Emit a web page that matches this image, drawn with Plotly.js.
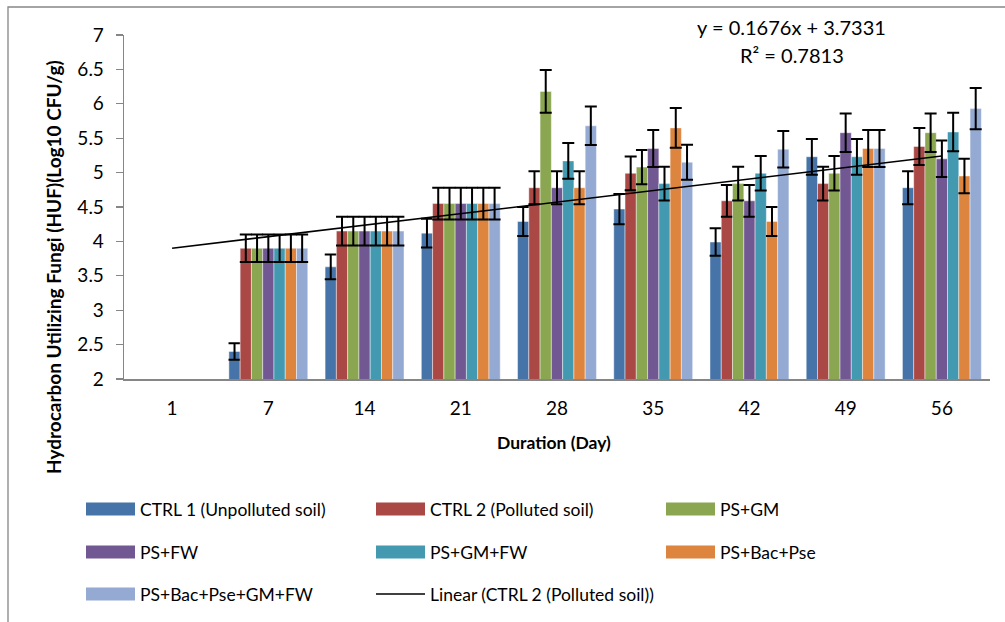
<!DOCTYPE html>
<html>
<head>
<meta charset="utf-8">
<script src="https://cdn.plot.ly/plotly-3.0.1.min.js"></script>
<style>
  html, body { margin: 0; padding: 0; background: #fff; }
  #chart { width: 1005px; height: 622px; }
</style>
</head>
<body>
<div id="chart"></div>
<script>
// Sampling days (categories)
const days = ['1', '7', '14', '21', '28', '35', '42', '49', '56'];

// Series names
const seriesNames = [
  'CTRL 1 (Unpolluted soil)',
  'CTRL 2 (Polluted soil)',
  'PS+GM',
  'PS+FW',
  'PS+GM+FW',
  'PS+Bac+Pse',
  'PS+Bac+Pse+GM+FW'
];

// HUF counts (Log10 CFU/g) and standard errors per treatment
const ctrl1       = [null, 2.40, 3.63, 4.12, 4.29, 4.47, 3.99, 5.23, 4.78];
const ctrl1Err    = [null, 0.12, 0.18, 0.21, 0.21, 0.22, 0.20, 0.26, 0.24];
const ctrl2       = [null, 3.90, 4.15, 4.55, 4.78, 4.99, 4.59, 4.84, 5.38];
const ctrl2Err    = [null, 0.20, 0.21, 0.23, 0.24, 0.245, 0.23, 0.245, 0.27];
const psGm        = [null, 3.90, 4.15, 4.55, 6.18, 5.08, 4.84, 4.99, 5.58];
const psGmErr     = [null, 0.20, 0.21, 0.23, 0.31, 0.25, 0.245, 0.25, 0.28];
const psFw        = [null, 3.90, 4.15, 4.55, 4.78, 5.35, 4.59, 5.58, 5.20];
const psFwErr     = [null, 0.20, 0.21, 0.23, 0.24, 0.27, 0.23, 0.28, 0.265];
const psGmFw      = [null, 3.90, 4.15, 4.55, 5.17, 4.84, 4.99, 5.23, 5.59];
const psGmFwErr   = [null, 0.20, 0.21, 0.23, 0.26, 0.245, 0.25, 0.26, 0.28];
const psBacPse    = [null, 3.90, 4.15, 4.55, 4.78, 5.65, 4.29, 5.35, 4.95];
const psBacPseErr = [null, 0.20, 0.21, 0.23, 0.24, 0.29, 0.21, 0.27, 0.25];
const psAll       = [null, 3.90, 4.15, 4.55, 5.68, 5.15, 5.34, 5.35, 5.93];
const psAllErr    = [null, 0.20, 0.21, 0.23, 0.28, 0.255, 0.265, 0.27, 0.30];

// Linear trend of CTRL 2 (x = category index 1..9)
const trendSlope = 0.1676;
const trendIntercept = 3.7331;
const trendR2 = 0.7813;
const trendName = 'Linear (CTRL 2 (Polluted soil))';

const colors = ['#4674A8', '#A94844', '#8AA650', '#725892', '#4299B0', '#DD843E', '#94AAD2'];
const values = [ctrl1, ctrl2, psGm, psFw, psGmFw, psBacPse, psAll];
const errors = [ctrl1Err, ctrl2Err, psGmErr, psFwErr, psGmFwErr, psBacPseErr, psAllErr];

const FONT = 'Lato, "Liberation Sans", Arial, sans-serif';

const traces = values.map((v, k) => ({
  type: 'bar',
  name: seriesNames[k],
  x: days,
  y: v,
  marker: { color: colors[k], line: { color: 'rgba(255,255,255,0.55)', width: 0.8 } },
  error_y: { type: 'data', array: errors[k], visible: true, color: '#000', thickness: 2, width: 6 },
  hoverinfo: 'x+y+name'
}));

traces.push({
  type: 'scatter',
  mode: 'lines',
  name: trendName,
  x: days,
  y: days.map((d, i) => trendSlope * (i + 1) + trendIntercept),
  line: { color: '#000', width: 1.6 }
});

// Plot area in pixels
const W = 1005, H = 622;
const L = 124, R = 990, T = 35, B = 379;
const px = p => (p - L) / (R - L);
const py = p => (B - p) / (B - T);

const shapes = [
  // chart frame
  { type: 'rect', xref: 'paper', yref: 'paper', x0: px(8), x1: px(1015), y0: py(640), y1: py(7),
    line: { color: '#868686', width: 1.3 }, fillcolor: 'rgba(0,0,0,0)', layer: 'below' }
];
const annotations = [];

// Legend (3 columns x 3 rows)
const legCols = [86, 376, 666];
const legRows = [509, 552, 594];
const legendItems = seriesNames.map((n, k) => ({ name: n, color: colors[k], kind: 'bar' }));
legendItems.push({ name: trendName, color: '#000', kind: 'line' });
legendItems.forEach((it, k) => {
  const cx = legCols[k % 3], cy = legRows[Math.floor(k / 3)];
  if (it.kind === 'bar') {
    shapes.push({ type: 'rect', xref: 'paper', yref: 'paper',
      x0: px(cx), x1: px(cx + 49), y0: py(cy + 6.5), y1: py(cy - 6.5),
      fillcolor: it.color, line: { width: 0 } });
  } else {
    shapes.push({ type: 'line', xref: 'paper', yref: 'paper',
      x0: px(cx), x1: px(cx + 49), y0: py(cy), y1: py(cy),
      line: { color: it.color, width: 1.6 } });
  }
  annotations.push({ xref: 'paper', yref: 'paper', x: px(cx + 52), y: py(cy),
    xanchor: 'left', yanchor: 'middle', showarrow: false, text: it.name,
    font: { family: FONT, size: 17.5, color: '#000' } });
});

// Trend equation
annotations.push({ xref: 'paper', yref: 'paper', x: px(791), y: py(27), xanchor: 'center', yanchor: 'middle',
  showarrow: false, text: 'y = ' + trendSlope.toFixed(4) + 'x + ' + trendIntercept.toFixed(4),
  font: { family: FONT, size: 20, color: '#000' } });
annotations.push({ xref: 'paper', yref: 'paper', x: px(792), y: py(55), xanchor: 'center', yanchor: 'middle',
  showarrow: false, text: 'R² = ' + trendR2.toFixed(4),
  font: { family: FONT, size: 20, color: '#000' } });

// Axis titles
annotations.push({ xref: 'paper', yref: 'paper', x: px(554), y: py(443), xanchor: 'center', yanchor: 'middle',
  showarrow: false, text: '<b>Duration (Day)</b>', font: { family: FONT, size: 17.5, color: '#000' } });
annotations.push({ xref: 'paper', yref: 'paper', x: px(53), y: py(267), xanchor: 'center', yanchor: 'middle',
  textangle: -90, showarrow: false, text: '<b>Hydrocarbon Utilizing Fungi (HUF)(Log10 CFU/g)</b>',
  font: { family: FONT, size: 19, color: '#000' } });

const layout = {
  width: W, height: H,
  margin: { l: L, r: W - R, t: T, b: H - B, pad: 0 },
  paper_bgcolor: '#fff', plot_bgcolor: '#fff',
  showlegend: false,
  barmode: 'group',
  bargap: 0.18,
  bargroupgap: 0,
  font: { family: FONT, size: 19, color: '#000' },
  xaxis: {
    type: 'category',
    showgrid: false, zeroline: false,
    showline: true, linecolor: '#868686', linewidth: 2.2,
    ticks: '', ticklabelstandoff: 11,
    tickfont: { family: FONT, size: 19, color: '#000' }
  },
  yaxis: {
    range: [2, 7], dtick: 0.5, tick0: 2,
    showgrid: false, zeroline: false,
    showline: true, linecolor: '#868686', linewidth: 1.3,
    ticks: 'outside', ticklen: 7, tickcolor: '#868686', tickwidth: 1.3,
    ticklabelstandoff: 8,
    tickfont: { family: FONT, size: 19, color: '#000' }
  },
  shapes: shapes,
  annotations: annotations
};

Plotly.newPlot('chart', traces, layout, { staticPlot: true, displayModeBar: false });
</script>
</body>
</html>
